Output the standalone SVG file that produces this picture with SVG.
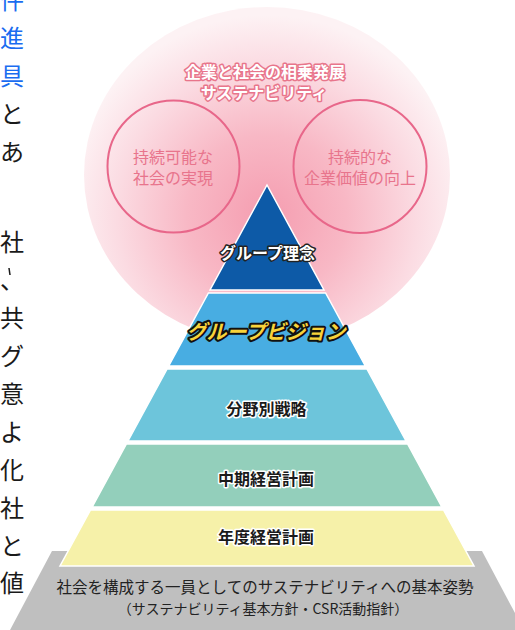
<svg xmlns="http://www.w3.org/2000/svg" width="515" height="630" viewBox="0 0 515 630">
<defs>
<radialGradient id="cloud" gradientUnits="userSpaceOnUse" cx="267" cy="215" r="200">
<stop offset="0" stop-color="#f59db0"/>
<stop offset="0.4" stop-color="#f8b8c5"/>
<stop offset="0.75" stop-color="#fbdbe2"/>
<stop offset="1" stop-color="#fdf2f4"/>
</radialGradient>
<style>
.jp{font-family:"Noto Sans CJK JP","Noto Sans",sans-serif;}
.col{font-size:24px;fill:#1a1a1a;}
.link{fill:#1a6cf0;}
.ring{fill:none;stroke:#e8678a;stroke-width:2;}
.ringtxt{font-size:16px;fill:#e8748c;text-anchor:middle;}
.title{font-size:16px;font-weight:bold;fill:#fff;stroke:#e8758b;stroke-width:3;stroke-linejoin:round;paint-order:stroke;text-anchor:middle;}
.layer{stroke:#fff;stroke-width:1.5;}
.dark{font-size:16px;font-weight:bold;fill:#fff;stroke:#222;stroke-width:3;stroke-linejoin:round;paint-order:stroke;text-anchor:middle;}
.light{font-size:16px;font-weight:bold;fill:#1a1a1a;stroke:#fff;stroke-width:3;stroke-linejoin:round;paint-order:stroke;text-anchor:middle;}
.vision{font-size:20px;font-weight:bold;font-style:italic;fill:#f8d33a;stroke:#111;stroke-width:4;stroke-linejoin:round;paint-order:stroke;text-anchor:middle;}
.base{fill:#222;text-anchor:middle;}
</style>
</defs>
<rect width="515" height="630" fill="#fff"/>

<g id="side-text" class="jp col">
<text x="0" y="9" class="link">件</text>
<text x="0" y="47" class="link">進</text>
<text x="0" y="85" class="link">具</text>
<text x="0" y="123">と</text>
<text x="0" y="161">あ</text>
<text x="0" y="251">社</text>
<line x1="9" y1="268" x2="10" y2="275" stroke="#1a1a1a" stroke-width="1.5"/>
<text x="0" y="289">、</text>
<text x="0" y="327">共</text>
<text x="0" y="365">グ</text>
<text x="0" y="403">意</text>
<text x="0" y="441">よ</text>
<text x="0" y="479">化</text>
<text x="0" y="517">社</text>
<text x="0" y="554.5">と</text>
<text x="0" y="592">値</text>
</g>

<g id="sustainability">
<ellipse cx="267" cy="175" rx="183" ry="168" fill="url(#cloud)"/>
<text class="jp title" x="265" y="78">企業と社会の相乗発展</text>
<text class="jp title" x="264" y="98.5">サステナビリティ</text>
</g>

<g id="circle-society">
<circle class="ring" cx="173.5" cy="166.5" r="66"/>
<text class="jp ringtxt" x="173" y="163">持続可能な</text>
<text class="jp ringtxt" x="173" y="184">社会の実現</text>
</g>

<g id="circle-corporate">
<circle class="ring" cx="360" cy="166.5" r="66.5"/>
<text class="jp ringtxt" x="360" y="163">持続的な</text>
<text class="jp ringtxt" x="360" y="184">企業価値の向上</text>
</g>

<g id="base">
<polygon points="52,551 482,551 524,630 10,630" fill="#bfbfbf"/>
<text class="jp base" x="265" y="592.5" font-size="15.5">社会を構成する一員としてのサステナビリティへの基本姿勢</text>
<text class="jp base" x="263" y="613.5" font-size="14">（サステナビリティ基本方針・CSR活動指針）</text>
</g>

<g id="layer-annual">
<polygon class="layer" points="90.5,510 443.5,510 474,566 60,566" fill="#f6f1a9"/>
<text class="jp light" x="266" y="542.5">年度経営計画</text>
</g>

<g id="layer-midterm">
<polygon class="layer" points="126.4,444 407.6,444 441.8,507 92.2,507" fill="#93cfbb"/>
<text class="jp light" x="266" y="485">中期経営計画</text>
</g>

<g id="layer-strategy">
<polygon class="layer" points="167.1,369 366.9,369 406,441 128,441" fill="#6dc5db"/>
<text class="jp light" x="266.5" y="415">分野別戦略</text>
</g>

<g id="layer-vision">
<polygon class="layer" points="208.4,293 325.6,293 365.3,366 168.7,366" fill="#48ade2"/>
<text class="jp vision" x="266" y="339">グループビジョン</text>
</g>

<g id="layer-philosophy">
<polygon class="layer" points="267,185 324,290 210,290" fill="#0d5aa7"/>
<text class="jp dark" x="267.5" y="259">グループ理念</text>
</g>

<g id="connectors"></g>
</svg>
